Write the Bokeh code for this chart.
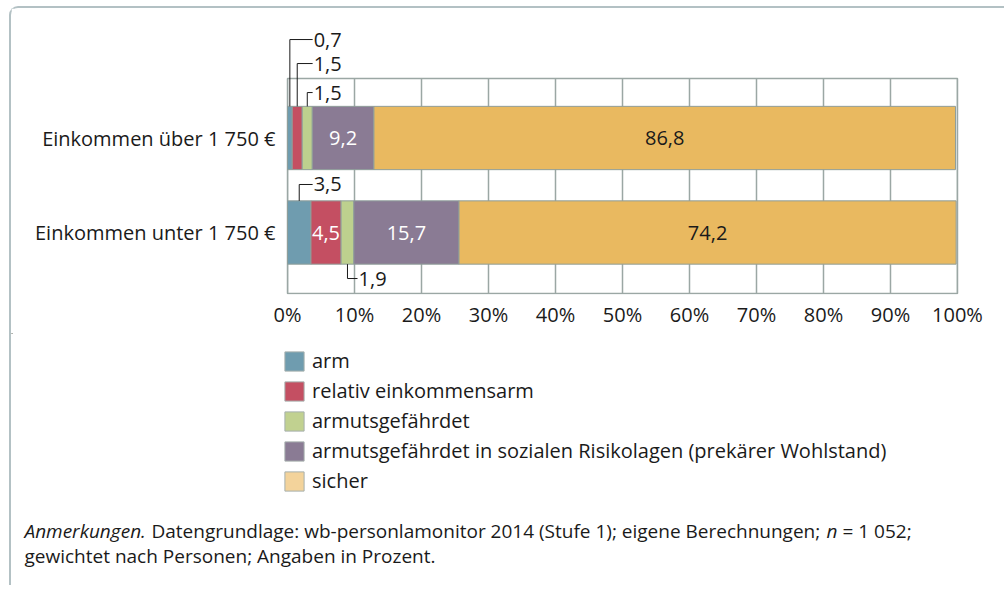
from bokeh.plotting import figure
from bokeh.models import (Range1d, FixedTicker, PrintfTickFormatter, Legend, LegendItem,
                          Label, ColumnDataSource)
from bokeh.core.properties import value
from bokeh.embed import file_html
from bokeh.resources import INLINE

# ---------------- data ----------------
categories = ["Einkommen unter 1 750 €", "Einkommen über 1 750 €"]
series = ["arm", "relativ einkommensarm", "armutsgefährdet",
          "armutsgefährdet in sozialen Risikolagen (prekärer Wohlstand)", "sicher"]
values_unter = [3.5, 4.5, 1.9, 15.7, 74.2]
values_ueber = [0.7, 1.5, 1.5, 9.2, 86.8]
x_ticks = [0, 10, 20, 30, 40, 50, 60, 70, 80, 90, 100]

# ---------------- styles ----------------
FONT = "Open Sans"
TXT = "#1a1a1a"
GRID = "#9ba7a4"
BORDER = "#b3c1c4"
bar_colors = ["#6f9caf", "#c44f62", "#bdd08e", "#8a7b94", "#e9b960"]
legend_colors = ["#6f9caf", "#c44f62", "#c1d190", "#8a7b94", "#f3d39b"]
# label mode per segment: "out" = callout, "white"/"dark" = inside label
modes = [["out", "white", "out", "white", "dark"],
         ["out", "out", "out", "white", "dark"]]
# callouts: (category index, series index, side, leader length in y units, x end of horizontal)
callouts = [(1, 0, "top", 0.707, 3.75),
            (1, 1, "top", 0.453, 3.75),
            (1, 2, "top", 0.146, 3.75),
            (0, 0, "top", 0.173, 3.75),
            (0, 2, "bottom", 0.152, 10.45)]
BAR_H = 0.67
GRID_TOP = 1.63      # upper edge of the gridded plot box
YB = -0.645          # lower edge of the gridded plot box

W1, H1 = 995, 327
p = figure(width=W1, height=H1, output_backend="svg", toolbar_location=None,
           x_range=Range1d(-0.15, 100.15), y_range=Range1d(YB - 0.011, 2.2434),
           min_border_left=275, min_border_right=48, min_border_top=12,
           min_border_bottom=41)
p.background_fill_color = "white"
p.border_fill_color = "white"
p.outline_line_color = None
p.grid.visible = False

# x axis
p.xaxis.ticker = FixedTicker(ticks=x_ticks)
p.xaxis.formatter = PrintfTickFormatter(format="%d%%")
p.xaxis.axis_line_color = None
p.xaxis.major_tick_line_color = None
p.xaxis.minor_tick_line_color = None
p.xaxis.major_label_standoff = 0
p.xaxis.major_label_text_font = FONT
p.xaxis.major_label_text_font_size = "20px"
p.xaxis.major_label_text_color = TXT

# y axis (categories at index positions)
p.yaxis.ticker = FixedTicker(ticks=list(range(len(categories))))
p.yaxis.major_label_overrides = {i: c for i, c in enumerate(categories)}
p.yaxis.axis_line_color = None
p.yaxis.major_tick_line_color = None
p.yaxis.minor_tick_line_color = None
p.yaxis.major_label_standoff = 5
p.yaxis.major_label_text_font = FONT
p.yaxis.major_label_text_font_size = "20px"
p.yaxis.major_label_text_color = TXT

# grid lines and plot box
p.segment(x0=x_ticks, y0=[YB] * len(x_ticks), x1=x_ticks, y1=[GRID_TOP] * len(x_ticks),
          line_color=GRID, line_width=1.5)
p.quad(left=[x_ticks[0]], right=[x_ticks[-1]], bottom=[YB], top=[GRID_TOP],
       fill_color=None, line_color=GRID, line_width=1.5)

# bars
vals = [values_unter, values_ueber]
lefts = [[sum(v[:i]) for i in range(len(v))] for v in vals]
for si, name in enumerate(series):
    src = ColumnDataSource(dict(
        y=list(range(len(categories))),
        left=[lefts[ci][si] for ci in range(len(categories))],
        right=[lefts[ci][si] + vals[ci][si] for ci in range(len(categories))]))
    p.hbar(y="y", left="left", right="right", height=BAR_H, source=src,
           fill_color=bar_colors[si], line_color="#8f9e9a", line_width=1)


def fmt(v):
    return f"{v:.1f}".replace(".", ",")


# inside labels
tx, ty, tt, tc = [], [], [], []
for ci in range(len(categories)):
    for si in range(len(series)):
        m = modes[ci][si]
        if m in ("white", "dark"):
            tx.append(lefts[ci][si] + vals[ci][si] / 2)
            ty.append(ci)
            tt.append(fmt(vals[ci][si]))
            tc.append("white" if m == "white" else TXT)
p.text(x="x", y="y", text="t", text_color="c",
       source=ColumnDataSource(dict(x=tx, y=ty, t=tt, c=tc)),
       text_align="center", text_baseline="middle",
       text_font=value(FONT), text_font_size="20px")

# callouts
cx, cy, ct, lxs, lys = [], [], [], [], []
for ci, si, side, ln, xe in callouts:
    xc = lefts[ci][si] + vals[ci][si] / 2
    if side == "top":
        y0 = ci + BAR_H / 2
        y1 = y0 + ln
    else:
        y0 = ci - BAR_H / 2
        y1 = y0 - ln
    lxs.append([xc, xc, xe])
    lys.append([y0, y1, y1])
    cx.append(xe)
    cy.append(y1)
    ct.append(fmt(vals[ci][si]))
p.multi_line(xs=lxs, ys=lys, line_color=TXT, line_width=1)
p.text(x=cx, y=cy, text=ct, x_offset=1, text_align="left", text_baseline="middle",
       text_font=value(FONT), text_font_size="20px", text_color=TXT)

# ---------------- legend + footnote panel ----------------
W2, H2 = 995, 252
q = figure(width=W2, height=H2, output_backend="svg", toolbar_location=None,
           x_range=Range1d(0, W2), y_range=Range1d(H2, 0),
           x_axis_type=None, y_axis_type=None, min_border=0,
           min_border_left=0, min_border_right=0, min_border_top=0, min_border_bottom=0)
q.outline_line_color = None
q.grid.visible = False
q.background_fill_color = "white"
q.border_fill_color = "white"

items = []
for si, name in enumerate(series):
    # swatch renderers, placed off-canvas; only their legend glyph is visible
    r = q.hbar(y=[-1000], left=[0], right=[1], height=1, fill_color=legend_colors[si],
               line_color="#a6b1ae", line_width=1)
    items.append(LegendItem(label=name, renderers=[r]))
legend = Legend(items=items, location=(271, 91), orientation="vertical",
                glyph_width=24, glyph_height=24, label_height=19, spacing=3,
                label_standoff=6, padding=0, margin=0,
                border_line_color=None, background_fill_alpha=0,
                label_text_font=FONT, label_text_font_size="20px",
                label_text_color=TXT)
q.add_layout(legend)

foot = [("Anmerkungen.", 13, 197, "italic"),
        ("Datengrundlage: wb-personlamonitor 2014 (Stufe 1); eigene Berechnungen;", 140, 197, "normal"),
        ("n", 815, 197, "italic"),
        ("= 1 052;", 831, 197, "normal"),
        ("gewichtet nach Personen; Angaben in Prozent.", 13, 222, "normal")]
for t, fx, fy, st in foot:
    q.add_layout(Label(x=fx, y=fy, text=t, text_align="left",
                       text_baseline="middle", text_font=FONT, text_font_size="19px",
                       text_font_style=st, text_color=TXT))

p.styles = {"margin-left": "9px", "margin-top": "6px",
            "border-top": f"2px solid {BORDER}", "border-left": f"2px solid {BORDER}",
            "border-top-left-radius": "9px"}
q.styles = {"margin-left": "9px", "border-left": f"2px solid {BORDER}"}

open("out.html", "w").write(file_html([p, q], INLINE))
